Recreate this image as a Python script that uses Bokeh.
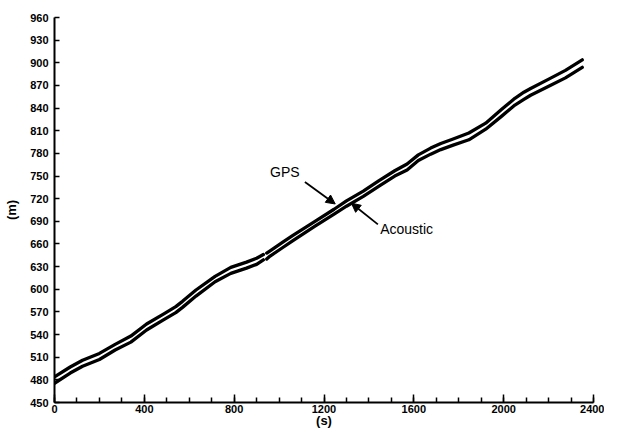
import numpy as np
from bokeh.plotting import figure
from bokeh.models import Range1d, SingleIntervalTicker, Arrow, NormalHead, Label
from bokeh.embed import file_html
from bokeh.resources import INLINE

NaN = float("nan")

# time (s)
t_s = [0, 70, 125, 200, 270, 340, 410, 485, 540, 570, 630, 715, 785, 855, 900, 930,
       937, 945, 960, 1015, 1060, 1160, 1245, 1300, 1375, 1445, 1515, 1570, 1620,
       1675, 1720, 1775, 1845, 1920, 1990, 2050, 2090, 2120, 2205, 2275, 2350]

# GPS position (m)
gps_m = [484, 497, 506, 515, 527, 538, 554, 567, 577, 584, 599, 617, 629, 636, 641, 646,
         NaN, 648, 651, 662, 671, 690, 706, 717, 730, 744, 757, 766, 778,
         787, 793, 799, 807, 820, 838, 853, 861, 866, 879, 890, 904]

# Acoustic position (m)
acoustic_m = [475.5, 489, 498, 507, 519.5, 530, 546, 559.5, 569, 576, 591, 610, 621, 628, 633, 639,
              NaN, 640, 644, 655, 664, 683.5, 699.5, 710, 723, 736.5, 750, 758, 770.5,
              779, 785, 791, 798, 812, 829, 844, 851.5, 857, 869.5, 880, 894]

x_major = 400
x_minor_count = 4
y_step = 30

FONT = "Liberation Sans"

p = figure(width=604, height=430, x_range=Range1d(0, 2400), y_range=Range1d(450, 960),
           output_backend="svg", toolbar_location=None,
           min_border_left=54, min_border_right=11, min_border_top=17, min_border_bottom=0)
p.outline_line_color = None
p.xgrid.visible = False
p.ygrid.visible = False
p.background_fill_color = "white"

p.line(np.array(t_s, dtype=float), np.array(gps_m, dtype=float), line_width=3.3,
       line_color="black", line_join="round", line_cap="round")
p.line(np.array(t_s, dtype=float), np.array(acoustic_m, dtype=float), line_width=3.3,
       line_color="black", line_join="round", line_cap="round")

# axes
xa = p.xaxis[0]
xa.ticker = SingleIntervalTicker(interval=x_major, num_minor_ticks=x_minor_count)
xa.axis_label = "(s)"
ya = p.yaxis[0]
ya.ticker = SingleIntervalTicker(interval=y_step, num_minor_ticks=0)
ya.axis_label = "(m)"

for ax in (xa, ya):
    ax.axis_line_width = 2
    ax.axis_line_color = "black"
    ax.major_tick_out = 0
    ax.minor_tick_out = 0
    ax.major_tick_line_width = 1.5
    ax.minor_tick_line_width = 1.5
    ax.major_tick_line_color = "black"
    ax.minor_tick_line_color = "black"
    ax.major_label_text_font = FONT
    ax.major_label_text_font_style = "bold"
    ax.major_label_text_font_size = "11px"
    ax.major_label_text_color = "black"
    ax.axis_label_text_font = FONT
    ax.axis_label_text_font_style = "bold"
    ax.axis_label_text_font_size = "13px"
    ax.axis_label_text_color = "black"

xa.major_tick_in = 8
xa.minor_tick_in = 5
xa.major_label_standoff = 2
xa.axis_label_standoff = -3
ya.major_tick_in = 5
ya.major_label_standoff = 6
ya.axis_label_standoff = 8

# annotations
p.add_layout(Label(x=960, y=756, text="GPS", text_font=FONT, text_font_size="14px",
                   text_baseline="middle", text_align="left", text_color="black"))
p.add_layout(Arrow(end=NormalHead(size=9, fill_color="black", line_color="black"),
                   x_start=1115, y_start=742, x_end=1250, y_end=713,
                   line_width=1.8, line_color="black"))
p.add_layout(Label(x=1450, y=680, text="Acoustic", text_font=FONT, text_font_size="14px",
                   text_baseline="middle", text_align="left", text_color="black"))
p.add_layout(Arrow(end=NormalHead(size=9, fill_color="black", line_color="black"),
                   x_start=1440, y_start=686, x_end=1322, y_end=714,
                   line_width=1.8, line_color="black"))

open("out.html", "w").write(file_html(p, INLINE))
